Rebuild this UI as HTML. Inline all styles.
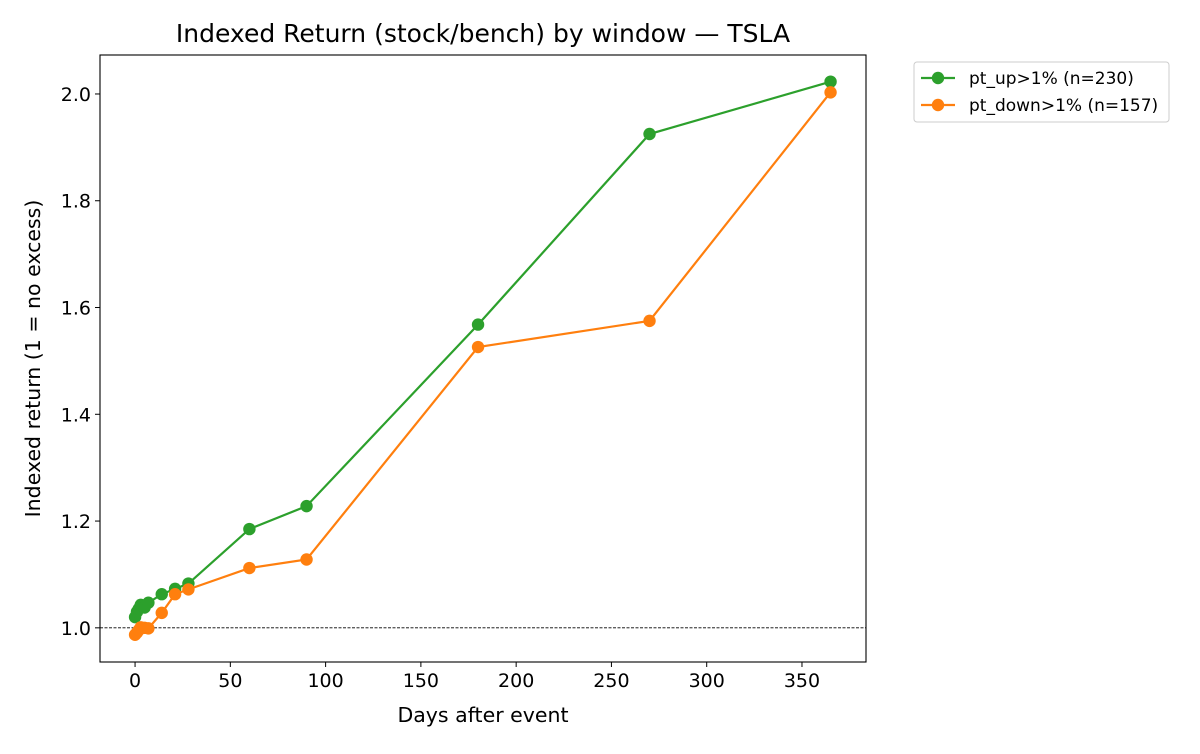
<!DOCTYPE html>
<html><head><meta charset="utf-8"><style>
body{margin:0;background:#fff;font-family:"DejaVu Sans","Liberation Sans",sans-serif}
text{font-family:"DejaVu Sans","Liberation Sans",sans-serif;fill:#000}
</style></head><body>
<svg id="c" width="1200" height="750" xmlns="http://www.w3.org/2000/svg"></svg>
<script>
const days=[0,1,2,3,5,7,14,21,28,60,90,180,270,365];
const upVals=[1.020,1.030,1.036,1.043,1.038,1.047,1.063,1.073,1.083,1.185,1.228,1.568,1.925,2.023];
const downVals=[0.987,0.991,0.996,1.001,1.000,0.999,1.028,1.063,1.072,1.112,1.128,1.526,1.575,2.003];
const xTicks=[0,50,100,150,200,250,300,350];
const yTicks=[1.0,1.2,1.4,1.6,1.8,2.0];
const seriesNames=["pt_up>1% (n=230)","pt_down>1% (n=157)"];
const L=100,R=866,T=55,B=662;
const xmin=-18.4,xmax=383.6,ymin=0.936,ymax=2.073;
const X=d=>L+(d-xmin)/(xmax-xmin)*(R-L);
const Y=v=>B-(v-ymin)/(ymax-ymin)*(B-T);
const svg=document.getElementById('c');
const NS="http://www.w3.org/2000/svg";
function mk(t,a,p){const e=document.createElementNS(NS,t);for(const k in a)e.setAttribute(k,a[k]);(p||svg).appendChild(e);return e;}
let e;
e=mk('text',{x:483,y:42,'font-size':'25','text-anchor':'middle'});e.textContent="Indexed Return (stock/bench) by window — TSLA";


e=mk('line',{x1:L,x2:R,y1:Y(1),y2:Y(1),stroke:'#000','stroke-width':0.8,'stroke-dasharray':'3,1.5'});


xTicks.forEach(t=>{const x=X(t);mk('line',{x1:x,x2:x,y1:B,y2:B+5,stroke:'#000','stroke-width':1});
e=mk('text',{x:x,y:B+25,'font-size':'19','text-anchor':'middle'});e.textContent=t;

});
yTicks.forEach(t=>{const y=Y(t);mk('line',{x1:L,x2:L-5,y1:y,y2:y,stroke:'#000','stroke-width':1});
e=mk('text',{x:L-9,y:y+7,'font-size':'19','text-anchor':'end'});e.textContent=t.toFixed(1);

});
e=mk('text',{x:483,y:722,'font-size':'20.5','text-anchor':'middle'});e.textContent="Days after event";


e=mk('text',{x:0,y:0,'font-size':'20.5','text-anchor':'middle',transform:`translate(40,${(T+B)/2}) rotate(-90)`});e.textContent="Indexed return (1 = no excess)";


const series=[[upVals,'#2ca02c','up-series'],[downVals,'#ff7f0e','down-series']];
series.forEach(([vals,col,nm])=>{
const g=mk('g',{});


mk('polyline',{points:days.map((d,i)=>X(d)+','+Y(vals[i])).join(' '),fill:'none',stroke:col,'stroke-width':2.2},g);
days.forEach((d,i)=>{const c=mk('circle',{cx:X(d),cy:Y(vals[i]),r:6.2,fill:col},g);

});
});
e=mk('rect',{x:L,y:T,width:R-L,height:B-T,fill:'none',stroke:'#000','stroke-width':1.1});


const lg=mk('g',{});


mk('rect',{x:914,y:62,width:255,height:60,rx:3,fill:'#fff',stroke:'#ccc','stroke-width':1},lg);
seriesNames.forEach((n,i)=>{const y=78+i*27,col=series[i][1];
mk('line',{x1:921,x2:955,y1:y,y2:y,stroke:col,'stroke-width':2.2},lg);
mk('circle',{cx:938,cy:y,r:6.2,fill:col},lg);
const t=mk('text',{x:969,y:y+6,'font-size':'17'},lg);t.textContent=n;

});
</script>
</body></html>
